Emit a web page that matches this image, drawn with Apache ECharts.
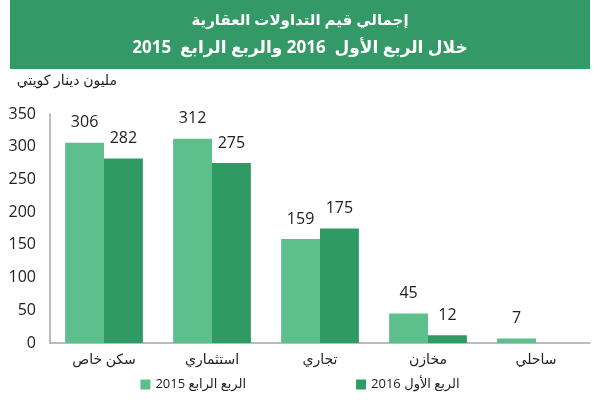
<!DOCTYPE html>
<html><head><meta charset="utf-8">
<script src="https://cdn.jsdelivr.net/npm/echarts@6/dist/echarts.min.js"></script>
<style>html,body{margin:0;padding:0;background:#fff}#c{width:600px;height:417px}</style>
</head><body><div id="c"></div>
<script>
var categories = ['سكن خاص', 'استثماري', 'تجاري', 'مخازن', 'ساحلي'];
var seriesNames = ['الربع الرابع 2015', 'الربع الأول 2016'];
var q4_2015 = [306, 312, 159, 45, 7];
var q1_2016 = [282, 275, 175, 12, null];
var yTicks = { min: 0, max: 350, interval: 50 };
var titleLine1 = 'إجمالي قيم التداولات العقارية';
var titleLine2 = 'خلال الربع الأول  2016 والربع الرابع  2015';
var unitLabel = 'مليون دينار كويتي';

var FONT = '"Open Sans", "DejaVu Sans", sans-serif';
var chart = echarts.init(document.getElementById('c'), null, {renderer: 'canvas'});
chart.setOption({
  animation: false,
  textStyle: {fontFamily: FONT},
  graphic: [
    {type: 'rect', shape: {x: 10, y: 0, width: 580, height: 69}, style: {fill: '#339966'}},
    {type: 'text', x: 300, y: 21, style: {text: titleLine1, fill: '#fff', font: 'bold 15px ' + FONT, textAlign: 'center', textVerticalAlign: 'middle'}},
    {type: 'text', x: 300, y: 48, style: {text: titleLine2, fill: '#fff', font: 'bold 17px ' + FONT, textAlign: 'center', textVerticalAlign: 'middle'}},
    {type: 'text', x: 117, y: 81, style: {text: unitLabel, fill: '#222', font: '14px ' + FONT, textAlign: 'right', textVerticalAlign: 'middle'}}
  ],
  legend: {
    data: seriesNames,
    bottom: 21,
    left: 'center',
    itemGap: 110,
    itemWidth: 10,
    itemHeight: 10,
    icon: 'rect',
    textStyle: {fontSize: 13, color: '#222', fontFamily: FONT}
  },
  grid: {left: 50, right: 10, top: 114, bottom: 74, containLabel: false},
  xAxis: {
    type: 'category',
    data: categories,
    axisLine: {lineStyle: {color: '#a6a6a6', width: 1.5}},
    axisTick: {show: false},
    axisLabel: {fontSize: 14, color: '#222', margin: 10, fontFamily: FONT}
  },
  yAxis: {
    type: 'value',
    min: yTicks.min, max: yTicks.max, interval: yTicks.interval,
    axisLine: {show: true, lineStyle: {color: '#a6a6a6', width: 1.5}},
    axisTick: {show: false},
    splitLine: {show: false},
    axisLabel: {fontSize: 16, color: '#222', margin: 14, fontFamily: FONT}
  },
  series: [
    {name: seriesNames[0], type: 'bar', data: q4_2015, barGap: '0%', barCategoryGap: '28%',
     itemStyle: {color: '#5cbf8c'},
     label: {show: true, position: 'top', distance: 12, fontSize: 16, color: '#222', fontFamily: FONT}},
    {name: seriesNames[1], type: 'bar', data: q1_2016,
     itemStyle: {color: '#2f9a63'},
     label: {show: true, position: 'top', distance: 12, fontSize: 16, color: '#222', fontFamily: FONT}}
  ]
});
</script></body></html>
